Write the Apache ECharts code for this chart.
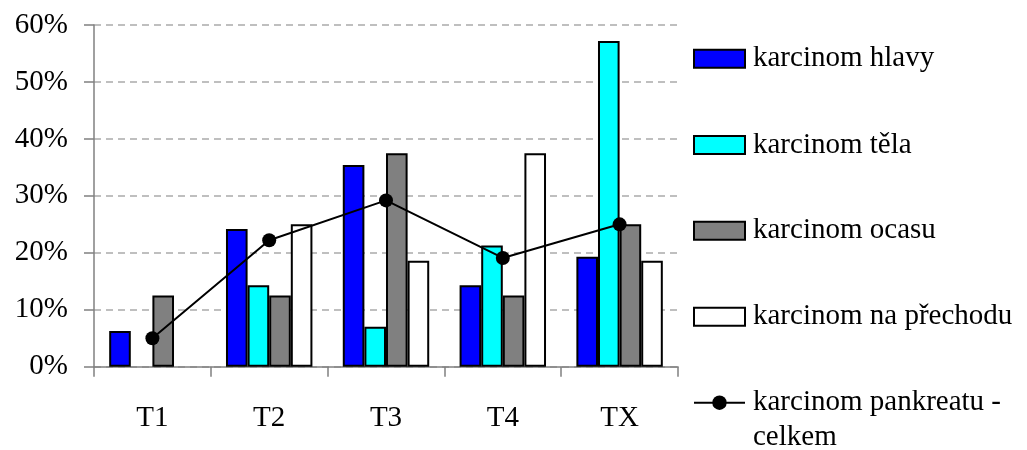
<!DOCTYPE html>
<html>
<head>
<meta charset="utf-8">
<script src="https://cdn.jsdelivr.net/npm/echarts@6/dist/echarts.min.js"></script>
<style>
html,body{margin:0;padding:0;background:#fff;}
#c{width:1027px;height:450px;}
</style>
</head>
<body>
<div id="c"></div>
<script>
const categories = ['T1', 'T2', 'T3', 'T4', 'TX'];
const hlavy = [6.25, 24.2, 35.4, 14.3, 19.3];
const tela = [0, 14.3, 7.0, 21.3, 57.2];
const ocasu = [12.5, 12.5, 37.5, 12.5, 25];
const prechodu = [0, 25, 18.6, 37.5, 18.6];
const celkem = [5, 22.2, 29.2, 19.1, 25];
const yTicks = [0, 10, 20, 30, 40, 50, 60];

const names = ['karcinom hlavy', 'karcinom těla', 'karcinom ocasu', 'karcinom na přechodu', 'karcinom pankreatu - celkem'];
const FONT = "'Liberation Serif', 'Times New Roman', serif";
const FS = 29;

const chart = echarts.init(document.getElementById('c'), null, {renderer: 'canvas'});

function barSeries(name, data, color) {
  return {
    name: name, type: 'bar',
    data: data.map(v => (v === 0 ? '-' : v)),
    barGap: '0%', barCategoryGap: '26%',
    itemStyle: {color: color, borderColor: '#000', borderWidth: 2},
    emphasis: {disabled: true}
  };
}

const legendTops = [44.2, 130.5, 216.2, 302.2];
const legends = legendTops.map((t, i) => ({
  data: [names[i]],
  left: 693, top: t, padding: 0,
  icon: 'rect', itemWidth: 51, itemHeight: 18,
  selectedMode: false,
  textStyle: {fontFamily: FONT, fontSize: FS, color: '#000', padding: [0, 0, 0, 3]}
}));
legends.push({
  data: [{name: names[4]}],
  left: 693, top: 350.2, padding: 0,
  itemWidth: 51, itemHeight: 18,
  selectedMode: false,
  formatter: () => ' \nkarcinom pankreatu -\ncelkem',
  textStyle: {fontFamily: FONT, fontSize: FS, color: '#000', lineHeight: 35, padding: [0, 0, 0, 3]}
});

chart.setOption({
  animation: false,
  backgroundColor: '#fff',
  textStyle: {fontFamily: FONT},
  legend: legends,
  grid: {left: 94, right: 349, top: 25, bottom: 83.3, containLabel: false},
  xAxis: {
    type: 'category', data: categories, boundaryGap: true,
    axisLine: {lineStyle: {color: '#808080', width: 1.5}},
    axisTick: {show: true, length: 10, lineStyle: {color: '#808080', width: 1.5}},
    axisLabel: {fontFamily: FONT, fontSize: FS, color: '#000', margin: 37}
  },
  yAxis: {
    type: 'value', min: yTicks[0], max: yTicks[yTicks.length - 1], interval: 10,
    axisLine: {show: true, lineStyle: {color: '#808080', width: 1.5}},
    axisTick: {show: true, length: 10, lineStyle: {color: '#808080', width: 1.5}},
    axisLabel: {fontFamily: FONT, fontSize: FS, color: '#000', margin: 26, formatter: '{value}%', padding: [6, 0, 0, 0]},
    splitLine: {show: true, lineStyle: {color: '#aaaaaa', width: 1.5, type: [7, 5]}}
  },
  series: [
    barSeries(names[0], hlavy, '#0000FF'),
    barSeries(names[1], tela, '#00FFFF'),
    barSeries(names[2], ocasu, '#808080'),
    barSeries(names[3], prechodu, '#FFFFFF'),
    {
      name: names[4], type: 'line', data: celkem, z: 5,
      symbol: 'circle', symbolSize: 14,
      lineStyle: {color: '#000', width: 2},
      itemStyle: {color: '#000'},
      emphasis: {disabled: true}
    }
  ]
});
</script>
</body>
</html>
